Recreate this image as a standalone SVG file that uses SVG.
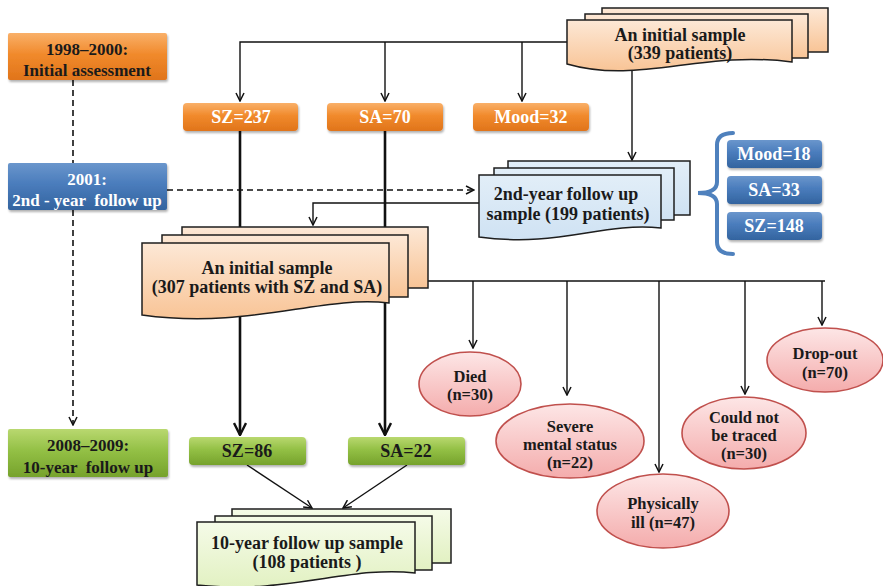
<svg xmlns="http://www.w3.org/2000/svg" width="883" height="586" viewBox="0 0 883 586">
  <defs>
    <linearGradient id="gOrange" x1="0" y1="0" x2="0" y2="1">
      <stop offset="0" stop-color="#f9b069"/>
      <stop offset="0.45" stop-color="#f18a2c"/>
      <stop offset="1" stop-color="#e0741a"/>
    </linearGradient>
    <linearGradient id="gBlue" x1="0" y1="0" x2="0" y2="1">
      <stop offset="0" stop-color="#6a96cc"/>
      <stop offset="0.45" stop-color="#4a7cbc"/>
      <stop offset="1" stop-color="#33649f"/>
    </linearGradient>
    <linearGradient id="gGreen" x1="0" y1="0" x2="0" y2="1">
      <stop offset="0" stop-color="#b9d870"/>
      <stop offset="0.45" stop-color="#93c045"/>
      <stop offset="1" stop-color="#76a22c"/>
    </linearGradient>
    <linearGradient id="gPeach" x1="0" y1="0" x2="0" y2="1">
      <stop offset="0" stop-color="#fde8d6"/>
      <stop offset="1" stop-color="#f8c496"/>
    </linearGradient>
    <linearGradient id="gSky" x1="0" y1="0" x2="0" y2="1">
      <stop offset="0" stop-color="#e2eef8"/>
      <stop offset="1" stop-color="#cfe2f3"/>
    </linearGradient>
    <linearGradient id="gLime" x1="0" y1="0" x2="0" y2="1">
      <stop offset="0" stop-color="#f5fbe8"/>
      <stop offset="1" stop-color="#e2f1c2"/>
    </linearGradient>
    <linearGradient id="gPink" x1="0" y1="0" x2="0" y2="1">
      <stop offset="0" stop-color="#fde6e6"/>
      <stop offset="1" stop-color="#f4acac"/>
    </linearGradient>
    <filter id="shadow" x="-10%" y="-20%" width="125%" height="150%">
      <feDropShadow dx="1" dy="2" stdDeviation="1.2" flood-color="#000" flood-opacity="0.3"/>
    </filter>
    <marker id="arr" viewBox="0 0 10 10" refX="9" refY="5" markerWidth="10" markerHeight="10" markerUnits="userSpaceOnUse" orient="auto">
      <path d="M1,1 L9,5 L1,9" fill="none" stroke="#111" stroke-width="1.5"/>
    </marker>
    <marker id="arrBig" viewBox="0 0 14 14" refX="13" refY="7" markerWidth="14" markerHeight="14" markerUnits="userSpaceOnUse" orient="auto">
      <path d="M1,1 L13,7 L1,13" fill="none" stroke="#111" stroke-width="2.4"/>
    </marker>
  </defs>
  <style>
    text { text-anchor: middle; font-size: 18px; }
    .small { font-size: 16.5px; }
    .tl { font-size: 17px; }
    .dk { fill: #1a1a1a; }
    .wt { fill: #ffffff; }
    .line { fill: none; stroke: #111; stroke-width: 1.4; }
    .thick { fill: none; stroke: #111; stroke-width: 2.6; }
    .dash { fill: none; stroke: #111; stroke-width: 1.6; stroke-dasharray: 6 4; }
    .sheet { stroke: #1e1e1e; stroke-width: 1.5; }
    .oval { fill: url(#gPink); stroke: #c0504d; stroke-width: 1.6; }
  </style>
  <rect width="883" height="586" fill="#ffffff"/>

  <!-- connectors -->
  <g id="connectors">
    <!-- timeline -->
    <path class="dash" d="M73,80 V163"/>
    <path class="dash" d="M73,210 V425" marker-end="url(#arr)"/>
    <path class="dash" d="M167,190 H474" marker-end="url(#arr)"/>
    <!-- initial sample split -->
    <path class="line" d="M567,42 H240 V101" marker-end="url(#arr)"/>
    <path class="line" d="M385,42 V101" marker-end="url(#arr)"/>
    <path class="line" d="M522,42 V101" marker-end="url(#arr)"/>
    <path class="line" d="M632,70 V160" marker-end="url(#arr)"/>
    <!-- second-year sample back to SZ/SA sample -->
    <path class="line" d="M480,203 H313 V225" marker-end="url(#arr)"/>
    <!-- SZ / SA flows -->
    <path class="thick" d="M240,131 V227"/>
    <path class="thick" d="M385,131 V227"/>
    <path class="thick" d="M240,312 V435" marker-end="url(#arrBig)"/>
    <path class="thick" d="M385,300 V435" marker-end="url(#arrBig)"/>
    <path class="line" d="M247,465 L312,508" marker-end="url(#arr)"/>
    <path class="line" d="M407,465 L343,508" marker-end="url(#arr)"/>
    <!-- attrition branches -->
    <path class="line" d="M428,281 H825"/>
    <path class="line" d="M473,281 V348" marker-end="url(#arr)"/>
    <path class="line" d="M567,281 V395" marker-end="url(#arr)"/>
    <path class="line" d="M659,281 V472" marker-end="url(#arr)"/>
    <path class="line" d="M745,281 V394" marker-end="url(#arr)"/>
    <path class="line" d="M822,281 V325" marker-end="url(#arr)"/>
  </g>

  <!-- timeline boxes -->
  <g id="t1998" font-family="Liberation Serif" font-weight="bold">
    <rect x="8" y="33" width="159" height="47" rx="2" fill="url(#gOrange)" filter="url(#shadow)"/>
    <text class="dk tl" x="87" y="55">1998–2000:</text>
    <text class="dk tl" x="87" y="76">Initial assessment</text>
  </g>
  <g id="t2001" font-family="Liberation Serif" font-weight="bold">
    <rect x="8" y="163" width="159" height="47" rx="2" fill="url(#gBlue)" filter="url(#shadow)"/>
    <text class="wt tl" x="87" y="185">2001:</text>
    <text class="wt tl" x="87" y="206" xml:space="preserve">2nd - year  follow up</text>
  </g>
  <g id="t2008" font-family="Liberation Serif" font-weight="bold">
    <rect x="8" y="429" width="160" height="48" rx="2" fill="url(#gGreen)" filter="url(#shadow)"/>
    <text class="dk tl" x="88" y="451">2008–2009:</text>
    <text class="dk tl" x="88" y="473" xml:space="preserve">10-year  follow up</text>
  </g>

  <!-- initial sample of 339 -->
  <g id="sample339" font-family="Liberation Serif" font-weight="bold">
    <rect class="sheet" x="602" y="8" width="226" height="44" fill="url(#gPeach)"/>
    <rect class="sheet" x="585" y="14" width="223" height="44" fill="url(#gPeach)"/>
    <path class="sheet" d="M567,20 H792 V62 C700,50 640,85 567,64 Z" fill="url(#gPeach)"/>
    <text class="dk" x="680" y="41">An initial sample</text>
    <text class="dk" x="680" y="59">(339 patients)</text>
  </g>

  <!-- diagnosis groups at baseline -->
  <g id="sz237" font-family="Liberation Serif" font-weight="bold">
    <rect x="183" y="103" width="115" height="28" rx="4" fill="url(#gOrange)" filter="url(#shadow)"/>
    <text class="wt" x="241" y="123">SZ=237</text>
  </g>
  <g id="sa70" font-family="Liberation Serif" font-weight="bold">
    <rect x="327" y="103" width="116" height="28" rx="4" fill="url(#gOrange)" filter="url(#shadow)"/>
    <text class="wt" x="385" y="123">SA=70</text>
  </g>
  <g id="mood32" font-family="Liberation Serif" font-weight="bold">
    <rect x="473" y="103" width="116" height="28" rx="4" fill="url(#gOrange)" filter="url(#shadow)"/>
    <text class="wt" x="531" y="123">Mood=32</text>
  </g>

  <!-- second-year sample -->
  <g id="sample199" font-family="Liberation Serif" font-weight="bold">
    <rect class="sheet" x="508" y="161" width="182" height="54" fill="url(#gSky)"/>
    <rect class="sheet" x="494" y="168" width="180" height="52" fill="url(#gSky)"/>
    <path class="sheet" d="M479,175 H661 V228 C600,222 560,248 479,237 Z" fill="url(#gSky)"/>
    <text class="dk" x="566" y="200">2nd-year follow up</text>
    <text class="dk" x="568" y="220">sample (199 patients)</text>
  </g>

  <!-- second-year breakdown -->
  <g id="brace">
    <path d="M733,133 Q717,133 717,145 V182 Q717,193 698,193 Q717,193 717,204 V242 Q717,254 733,254" fill="none" stroke="#4f81bd" stroke-width="4" stroke-linecap="round"/>
  </g>
  <g id="mood18" font-family="Liberation Serif" font-weight="bold">
    <rect x="727" y="140" width="95" height="28" rx="4" fill="url(#gBlue)" filter="url(#shadow)"/>
    <text class="wt" x="774" y="160">Mood=18</text>
  </g>
  <g id="sa33" font-family="Liberation Serif" font-weight="bold">
    <rect x="727" y="176" width="95" height="28" rx="4" fill="url(#gBlue)" filter="url(#shadow)"/>
    <text class="wt" x="774" y="196">SA=33</text>
  </g>
  <g id="sz148" font-family="Liberation Serif" font-weight="bold">
    <rect x="727" y="212" width="95" height="28" rx="4" fill="url(#gBlue)" filter="url(#shadow)"/>
    <text class="wt" x="774" y="232">SZ=148</text>
  </g>

  <!-- SZ and SA sample of 307 -->
  <g id="sample307" font-family="Liberation Serif" font-weight="bold">
    <rect class="sheet" x="182" y="227" width="246" height="61" fill="url(#gPeach)"/>
    <rect class="sheet" x="162" y="235" width="246" height="62" fill="url(#gPeach)"/>
    <path class="sheet" d="M142,243 H389 V303 C320,295 250,330 142,315 Z" fill="url(#gPeach)"/>
    <text class="dk" x="267" y="274">An initial sample</text>
    <text class="dk" x="267" y="293">(307 patients with SZ and SA)</text>
  </g>

  <!-- attrition outcomes -->
  <g id="died" font-family="Liberation Serif" font-weight="bold">
    <ellipse class="oval" cx="470" cy="384" rx="51" ry="32"/>
    <text class="dk small" x="470" y="382">Died</text>
    <text class="dk small" x="470" y="400">(n=30)</text>
  </g>
  <g id="severe" font-family="Liberation Serif" font-weight="bold">
    <ellipse class="oval" cx="570" cy="441" rx="74" ry="37"/>
    <text class="dk small" x="570" y="432">Severe</text>
    <text class="dk small" x="570" y="450">mental status</text>
    <text class="dk small" x="570" y="468">(n=22)</text>
  </g>
  <g id="physically" font-family="Liberation Serif" font-weight="bold">
    <ellipse class="oval" cx="663" cy="511" rx="66" ry="37"/>
    <text class="dk small" x="663" y="509">Physically</text>
    <text class="dk small" x="663" y="528">ill (n=47)</text>
  </g>
  <g id="untraced" font-family="Liberation Serif" font-weight="bold">
    <ellipse class="oval" cx="744" cy="433" rx="62" ry="36"/>
    <text class="dk small" x="744" y="423">Could not</text>
    <text class="dk small" x="744" y="441">be traced</text>
    <text class="dk small" x="744" y="459">(n=30)</text>
  </g>
  <g id="dropout" font-family="Liberation Serif" font-weight="bold">
    <ellipse class="oval" cx="825" cy="360" rx="58" ry="32"/>
    <text class="dk small" x="825" y="359">Drop-out</text>
    <text class="dk small" x="825" y="378">(n=70)</text>
  </g>

  <!-- ten-year groups -->
  <g id="sz86" font-family="Liberation Serif" font-weight="bold">
    <rect x="189" y="437" width="117" height="28" rx="4" fill="url(#gGreen)" filter="url(#shadow)"/>
    <text class="dk" x="247" y="457">SZ=86</text>
  </g>
  <g id="sa22" font-family="Liberation Serif" font-weight="bold">
    <rect x="348" y="437" width="117" height="28" rx="4" fill="url(#gGreen)" filter="url(#shadow)"/>
    <text class="dk" x="406" y="457">SA=22</text>
  </g>

  <!-- ten-year sample -->
  <g id="sample108" font-family="Liberation Serif" font-weight="bold">
    <rect class="sheet" x="232" y="509" width="219" height="54" fill="url(#gLime)"/>
    <rect class="sheet" x="215" y="516" width="217" height="54" fill="url(#gLime)"/>
    <path class="sheet" d="M197,522 H415 V573 C350,565 290,595 197,585 Z" fill="url(#gLime)"/>
    <text class="dk" x="307" y="549">10-year follow up sample</text>
    <text class="dk" x="307" y="568" xml:space="preserve">(108 patients )</text>
  </g>
</svg>
